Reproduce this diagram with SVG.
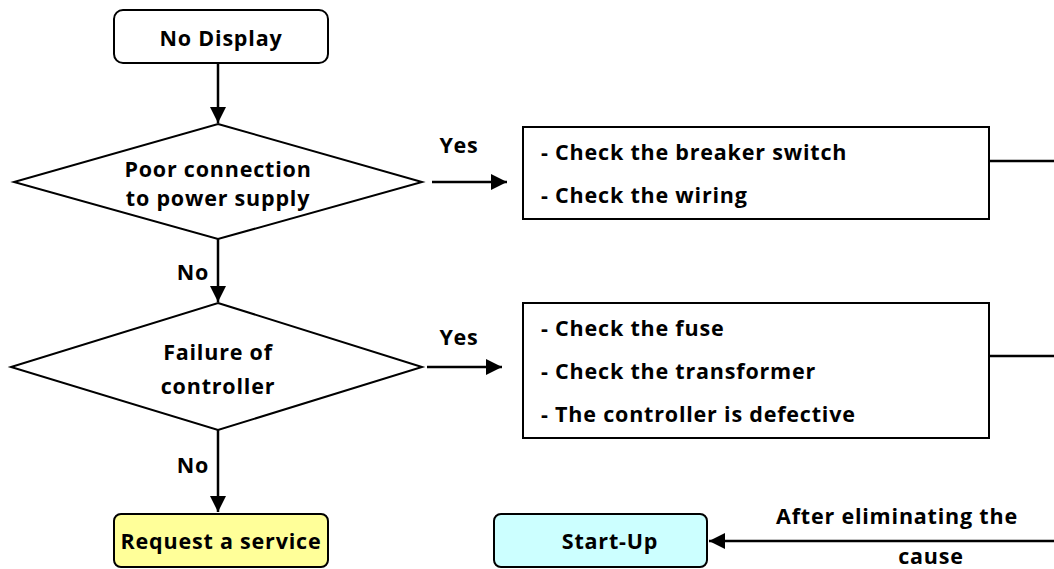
<svg xmlns="http://www.w3.org/2000/svg" width="1054" height="569" viewBox="0 0 1054 569">
<style>
text{font-family:"Open Sans","Noto Sans","Liberation Sans",sans-serif;font-weight:bold;font-size:21.5px;letter-spacing:0.8px;fill:#000;}
.c{text-anchor:middle;dominant-baseline:central;}
.l{dominant-baseline:central;}
.shape{stroke:#000;stroke-width:2;}
.conn{stroke:#000;stroke-width:2.5;fill:none;}
</style>
<defs>
<marker id="ah" viewBox="0 0 10 10" refX="10" refY="5" markerWidth="6.5" markerHeight="6.5" markerUnits="strokeWidth" orient="auto">
<path d="M0,0 L10,5 L0,10 z" fill="#000"/>
</marker>
</defs>
<rect width="1054" height="569" fill="#fff"/>
<g id="connectors">
<line class="conn" x1="218" y1="64" x2="218" y2="123" marker-end="url(#ah)"/>
<line class="conn" x1="218" y1="239" x2="218" y2="302" marker-end="url(#ah)"/>
<line class="conn" x1="218" y1="430" x2="218" y2="512" marker-end="url(#ah)"/>
<line class="conn" x1="432" y1="182" x2="507" y2="182" marker-end="url(#ah)"/>
<line class="conn" x1="427" y1="367" x2="502" y2="367" marker-end="url(#ah)"/>
<line class="conn" x1="989" y1="161" x2="1054" y2="161"/>
<line class="conn" x1="989" y1="356" x2="1054" y2="356"/>
<line class="conn" x1="1054" y1="541" x2="709" y2="541" marker-end="url(#ah)"/>
<text class="c" x="459" y="144">Yes</text>
<text class="c" x="459" y="336">Yes</text>
<text class="c" x="193" y="271">No</text>
<text class="c" x="193" y="464">No</text>
<text class="c" x="897" y="515">After eliminating the</text>
<text class="c" x="931" y="555">cause</text>
</g>
<g id="no-display">
<rect class="shape" x="114" y="10" width="214" height="53" rx="9" fill="#fff"/>
<text class="c" x="221" y="37">No Display</text>
</g>
<g id="poor-connection">
<polygon class="shape" points="218,124 422,182 218,239 14,182" fill="#fff"/>
<text class="c" x="218" y="168">Poor connection</text>
<text class="c" x="218" y="197">to power supply</text>
</g>
<g id="check-breaker">
<rect class="shape" x="523" y="127" width="466" height="92" fill="#fff"/>
<text class="l" x="541" y="151">- Check the breaker switch</text>
<text class="l" x="541" y="194">- Check the wiring</text>
</g>
<g id="failure-controller">
<polygon class="shape" points="218,303 422,367 218,430 11,367" fill="#fff"/>
<text class="c" x="218" y="351">Failure of</text>
<text class="c" x="218" y="385">controller</text>
</g>
<g id="check-fuse">
<rect class="shape" x="523" y="303" width="466" height="135" fill="#fff"/>
<text class="l" x="541" y="327">- Check the fuse</text>
<text class="l" x="541" y="370">- Check the transformer</text>
<text class="l" x="541" y="413">- The controller is defective</text>
</g>
<g id="request-service">
<rect class="shape" x="114" y="514" width="214" height="53" rx="7" fill="#FFFF99"/>
<text class="c" x="221" y="540">Request a service</text>
</g>
<g id="start-up">
<rect class="shape" x="494" y="514" width="213" height="53" rx="7" fill="#CCFFFF"/>
<text class="c" x="610" y="540">Start-Up</text>
</g>
</svg>
